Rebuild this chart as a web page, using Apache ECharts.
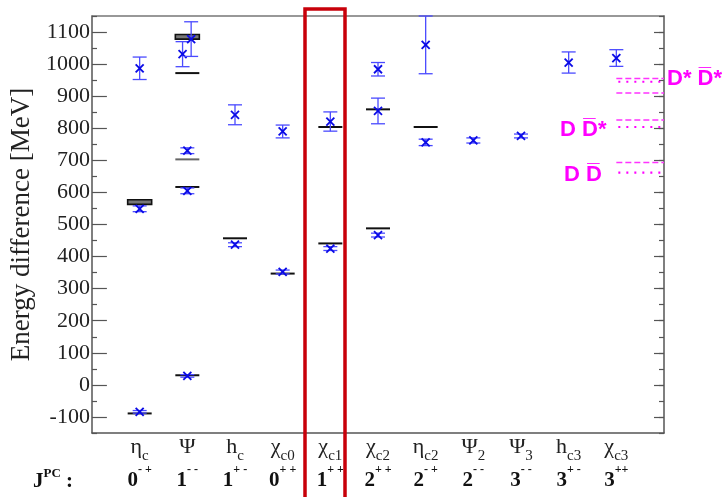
<!DOCTYPE html>
<html><head><meta charset="utf-8">
<script src="https://cdn.jsdelivr.net/npm/echarts@6/dist/echarts.min.js"></script>
<style>html,body{margin:0;padding:0;background:#fff}#c{width:728px;height:497px}</style>
</head><body><div id="c"></div>
<script>
// categories (x positions 1..11)
const catNames = ['η','Ψ','h','χ','χ','χ','η','Ψ','Ψ','h','χ'];
const catSubs  = ['c','','c','c0','c1','c2','c2','2','3','c3','c3'];
const jValues  = ['0','1','1','0','1','2','2','2','3','3','3'];
const pcValues = ['- +','- -','+ -','+ +','+ +','+ +','- +','- -','- -','+ -','++'];
// y ticks
const yMin = -150, yMax = 1150;
// lattice results: x, value, error
const latX   = [1, 1, 1, 1.9, 2.08, 2, 2, 2, 3, 3, 4, 4, 5, 5, 6, 6, 6, 7, 7, 8, 9, 10, 11];
const latY   = [987, 549, -84, 1031, 1078, 730, 605, 28, 842, 437, 790, 352, 821, 425, 984, 854, 467, 1060, 756, 762, 776, 1005, 1019];
const latErr = [35, 9, 4, 39, 54, 9, 9, 4, 31, 6, 20, 6, 30, 6, 21, 40, 6, 90, 10, 8, 6, 33, 26];
// experimental levels (black)
const expX = [1, 2, 2, 2, 3, 4, 5, 5, 6, 6, 7];
const expY = [-89, 972, 617, 30, 457, 347, 804, 441, 859, 488, 804];
// experimental level (gray)
const grayX = [2];
const grayY = [703];
// double lines (bands)
const bandX = [1, 2];
const bandLow = [566, 1081];
const bandHigh = [574, 1089];
// thresholds
const thrDashed = [955, 910, 826, 693];
const thrDotted = [945, 804, 662];

const chart = echarts.init(document.getElementById('c'), null, {renderer: 'canvas'});
const serif = 'Liberation Serif';
const G = {left: 92, right: 64, top: 16, bottom: 64};
const H = 497 - G.top - G.bottom;
const pxPer = H / (yMax - yMin);
const G2 = {left: 92, right: 64, top: G.top + 50 * pxPer, bottom: G.bottom + 50 * pxPer};

const axisCol = '#555';
function xl(v) {
  const i = Math.round(v) - 1;
  if (i < 0 || i >= catNames.length || Math.abs(v - Math.round(v)) > 1e-6) return '';
  const sub = catSubs[i] ? '{s|' + catSubs[i] + '}' : '';
  return '{n|' + catNames[i] + '}' + sub + '\n{j|' + jValues[i] + '}{p|' + pcValues[i] + '}';
}

const option = {
  animation: false,
  backgroundColor: '#fff',
  grid: [
    {left: G.left, right: G.right, top: G.top, bottom: G.bottom},
    {left: G2.left, right: G2.right, top: G2.top, bottom: G2.bottom}
  ],
  xAxis: [
    {type: 'value', gridIndex: 0, min: 0, max: 12, interval: 1, position: 'bottom',
     axisLine: {show: true, onZero: false, lineStyle: {color: axisCol, width: 1.5}},
     axisTick: {show: false}, splitLine: {show: false},
     axisLabel: {show: true, margin: -3, formatter: xl, color: '#222',
       rich: {
         n: {fontFamily: serif, fontSize: 22, lineHeight: 34, color: '#222'},
         s: {fontFamily: serif, fontSize: 15, lineHeight: 14, verticalAlign: 'bottom', color: '#222'},
         j: {fontFamily: serif, fontSize: 21, fontWeight: 'bold', lineHeight: 34, color: '#111'},
         p: {fontFamily: serif, fontSize: 12, fontWeight: 'bold', lineHeight: 14, verticalAlign: 'top', color: '#111'}
       }}},
    {type: 'value', gridIndex: 0, min: 0, max: 12, position: 'top',
     axisLine: {show: true, onZero: false, lineStyle: {color: '#777', width: 1.5}},
     axisTick: {show: false}, axisLabel: {show: false}, splitLine: {show: false}},
    {type: 'value', gridIndex: 1, min: 0, max: 12, show: false, axisLine: {onZero: false}}
  ],
  yAxis: [
    {type: 'value', gridIndex: 0, min: yMin, max: yMax, interval: 50, position: 'left',
     axisLine: {show: true, onZero: false, lineStyle: {color: axisCol, width: 1.5}},
     axisTick: {show: true, inside: true, length: 5, lineStyle: {color: axisCol, width: 1.2}},
     axisLabel: {show: false}, splitLine: {show: false}},
    {type: 'value', gridIndex: 0, min: yMin, max: yMax, interval: 50, position: 'right',
     axisLine: {show: true, onZero: false, lineStyle: {color: axisCol, width: 1.5}},
     axisTick: {show: true, inside: true, length: 5, lineStyle: {color: axisCol, width: 1.2}},
     axisLabel: {show: false}, splitLine: {show: false}},
    {type: 'value', gridIndex: 1, min: -100, max: 1100, interval: 100, position: 'left',
     axisLine: {show: false, onZero: false},
     axisTick: {show: true, inside: true, length: 10, lineStyle: {color: axisCol, width: 1.2}},
     axisLabel: {show: true, margin: 7, fontFamily: serif, fontSize: 22, color: '#222',
       formatter: v => String(v)},
     splitLine: {show: false},
     name: 'Energy difference [MeV]', nameLocation: 'middle', nameGap: 58, nameRotate: 90,
     nameTextStyle: {fontFamily: serif, fontSize: 27, color: '#222'}},
    {type: 'value', gridIndex: 1, min: -100, max: 1100, interval: 100, position: 'right',
     axisLine: {show: false, onZero: false},
     axisTick: {show: true, inside: true, length: 10, lineStyle: {color: axisCol, width: 1.2}},
     axisLabel: {show: false}, splitLine: {show: false}}
  ],
  series: [
    {type: 'custom', xAxisIndex: 0, yAxisIndex: 0, z: 3,
     data: bandX.map((x, i) => [x, bandLow[i], bandHigh[i]]),
     renderItem: function (params, api) {
       const a = api.coord([api.value(0), api.value(1)]);
       const b = api.coord([api.value(0), api.value(2)]);
       return {type: 'rect', shape: {x: a[0] - 12, y: b[1] - 1, width: 24, height: a[1] - b[1] + 2},
         style: {fill: '#777', stroke: '#111', lineWidth: 1.6}};
     }},
    {type: 'custom', xAxisIndex: 0, yAxisIndex: 0, z: 3,
     data: expX.map((x, i) => [x, expY[i]]),
     renderItem: function (params, api) {
       const c = api.coord([api.value(0), api.value(1)]);
       return {type: 'line', shape: {x1: c[0] - 12, y1: c[1], x2: c[0] + 12, y2: c[1]},
         style: {stroke: '#111', lineWidth: 2}};
     }},
    {type: 'custom', xAxisIndex: 0, yAxisIndex: 0, z: 3,
     data: grayX.map((x, i) => [x, grayY[i]]),
     renderItem: function (params, api) {
       const c = api.coord([api.value(0), api.value(1)]);
       return {type: 'line', shape: {x1: c[0] - 12, y1: c[1], x2: c[0] + 12, y2: c[1]},
         style: {stroke: '#666', lineWidth: 2}};
     }},
    {type: 'custom', xAxisIndex: 0, yAxisIndex: 0, z: 4,
     data: latX.map((x, i) => [x, latY[i], latErr[i]]),
     renderItem: function (params, api) {
       const x = api.value(0), y = api.value(1), e = api.value(2);
       const c = api.coord([x, y]);
       const t = api.coord([x, y + e]);
       const b = api.coord([x, y - e]);
       const eb = {stroke: '#4a4aff', lineWidth: 1.3};
       const mk = {stroke: '#0a0ae6', lineWidth: 1.8};
       const r = 4;
       return {type: 'group', children: [
         {type: 'line', shape: {x1: c[0], y1: t[1], x2: c[0], y2: b[1]}, style: eb},
         {type: 'line', shape: {x1: c[0] - 7, y1: t[1], x2: c[0] + 7, y2: t[1]}, style: eb},
         {type: 'line', shape: {x1: c[0] - 7, y1: b[1], x2: c[0] + 7, y2: b[1]}, style: eb},
         {type: 'line', shape: {x1: c[0] - r, y1: c[1] - r, x2: c[0] + r, y2: c[1] + r}, style: mk},
         {type: 'line', shape: {x1: c[0] - r, y1: c[1] + r, x2: c[0] + r, y2: c[1] - r}, style: mk}
       ]};
     }},
    {type: 'custom', xAxisIndex: 0, yAxisIndex: 0, z: 3,
     data: thrDashed.map(v => [11, 12, v]),
     renderItem: function (params, api) {
       const a = api.coord([api.value(0), api.value(2)]);
       const b = api.coord([api.value(1), api.value(2)]);
       return {type: 'line', shape: {x1: a[0], y1: a[1], x2: b[0], y2: b[1]},
         style: {stroke: '#ff33ff', lineWidth: 1.5, lineDash: [6, 3]}};
     }},
    {type: 'custom', xAxisIndex: 0, yAxisIndex: 0, z: 3,
     data: thrDotted.map(v => [11, 12, v]),
     renderItem: function (params, api) {
       const a = api.coord([api.value(0), api.value(2)]);
       const b = api.coord([api.value(1), api.value(2)]);
       return {type: 'line', shape: {x1: a[0] + 2, y1: a[1], x2: b[0], y2: b[1]},
         style: {stroke: '#ff00ff', lineWidth: 2.2, lineDash: [2, 6]}};
     }}
  ],
  graphic: [
    {type: 'rect', shape: {x: 305, y: 9, width: 40, height: 500},
     style: {fill: 'none', stroke: '#c8000a', lineWidth: 3.5}, z: 10},
    {type: 'text', x: 667, y: 79, style: {text: 'D* D̅*', font: 'bold 22px "Liberation Sans"', fill: '#ff00ff', verticalAlign: 'middle'}, z: 10},
    {type: 'text', x: 560, y: 130, style: {text: 'D D̅*', font: 'bold 22px "Liberation Sans"', fill: '#ff00ff', verticalAlign: 'middle'}, z: 10},
    {type: 'text', x: 564, y: 175, style: {text: 'D D̅', font: 'bold 22px "Liberation Sans"', fill: '#ff00ff', verticalAlign: 'middle'}, z: 10},
    {type: 'text', x: 33, y: 482, z: 10,
     style: {text: '{j|J}{p|PC}{c| :}', verticalAlign: 'middle',
       rich: {
         j: {fontFamily: serif, fontSize: 21, fontWeight: 'bold', lineHeight: 30, fill: '#111'},
         p: {fontFamily: serif, fontSize: 13, fontWeight: 'bold', lineHeight: 14, verticalAlign: 'top', fill: '#111'},
         c: {fontFamily: serif, fontSize: 21, fontWeight: 'bold', lineHeight: 30, fill: '#111'}
       }}}
  ]
};
chart.setOption(option);
</script></body></html>
